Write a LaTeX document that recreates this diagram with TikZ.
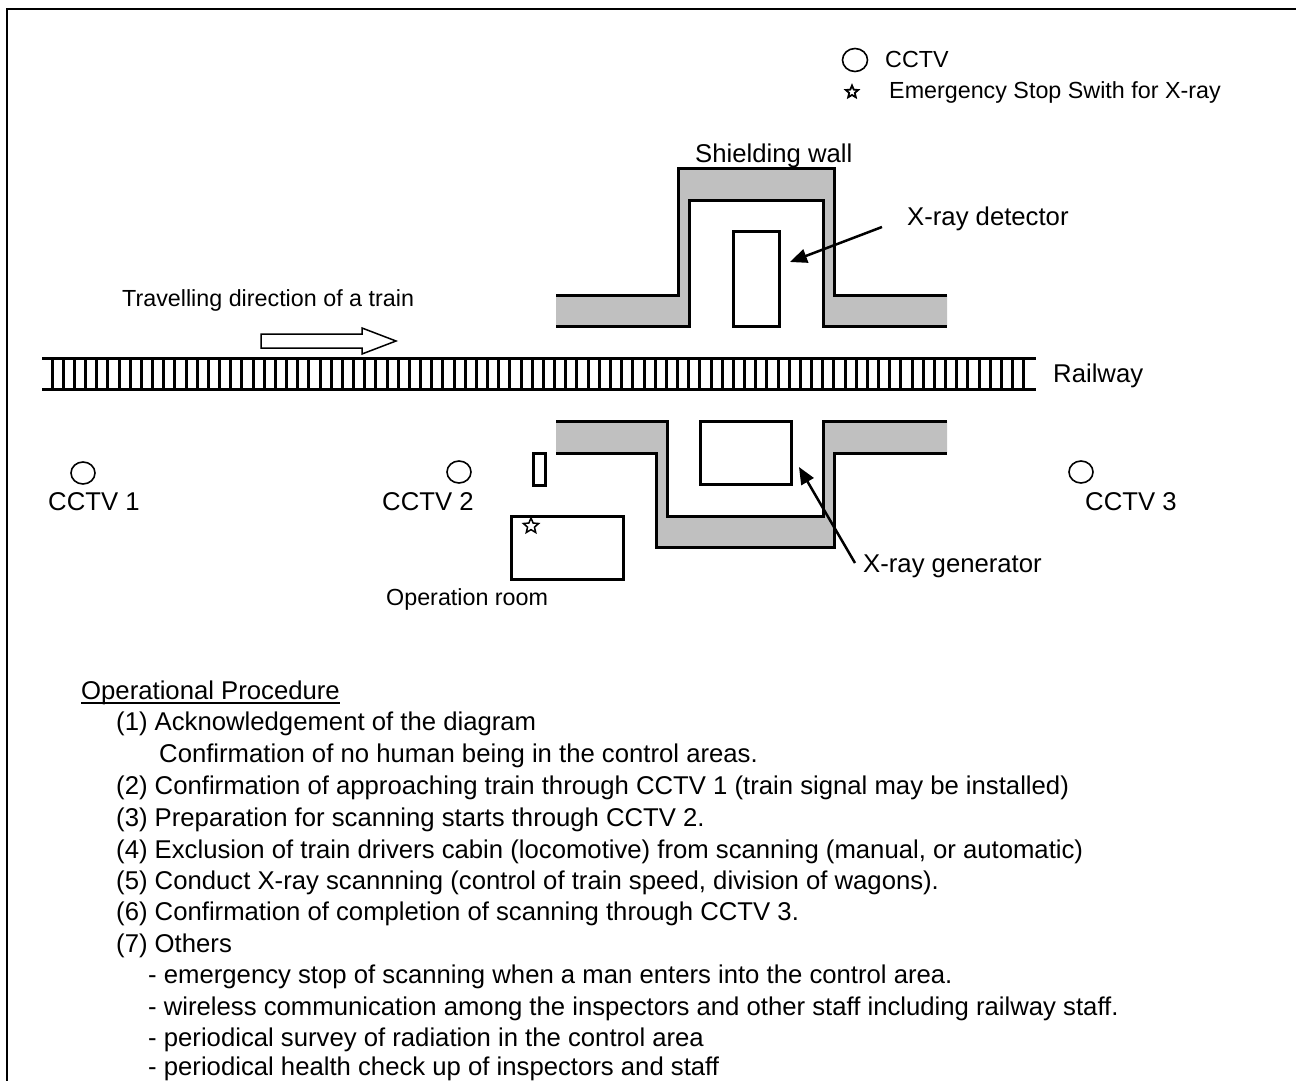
\documentclass[tikz,border=0pt]{standalone}
\usepackage{fontspec}
\setmainfont{Liberation Sans}
\usetikzlibrary{arrows.meta,calc,shapes.geometric}
\definecolor{wallgray}{HTML}{C0C0C0}

\begin{document}
\begin{tikzpicture}[
  x=1pt, y=-1pt,
  every node/.style={inner sep=0pt, anchor=base west},
  biglabel/.style={font=\fontsize{25.7}{30}\selectfont},
  smalllabel/.style={font=\fontsize{23.3}{27}\selectfont},
  wallline/.style={line width=3pt, line cap=butt, line join=miter},
  boxline/.style={draw, line width=3pt, outer sep=0pt},
  camera/.style={draw, ellipse, line width=1.6pt, minimum width=24pt, minimum height=22pt, anchor=center},
  stopswitch/.style={draw, star, star points=5, star point ratio=2.2, line width=1.5pt, minimum size=16pt, anchor=center},
  pointer/.style={line width=2.5pt, -{Triangle[length=17pt,width=14pt]}},
]
\useasboundingbox (0,0) rectangle (1296,1081);
\draw[line width=2.5pt] (7,1081) -- (7,9) -- (1296,9);

% legend
\node[camera, minimum width=25pt, minimum height=23pt] (legcam) at (855,60) {};
\node[smalllabel] (legcamtext) at (885,68) {CCTV};
\node[stopswitch, minimum size=13pt, line width=1.8pt] (legstar) at (852,92) {};
\node[smalllabel] (legstartext) at (889,99) {Emergency Stop Swith for X-ray};

% top wall
\fill[wallgray] (556,295) -- (678,295) -- (678,168) -- (834,168) -- (834,295) -- (947,295)
  -- (947,326) -- (823,326) -- (823,200) -- (689,200) -- (689,326) -- (556,326) -- cycle;
\draw[wallline] (556,295) -- (678,295) -- (678,168) -- (834,168) -- (834,295) -- (947,295);
\draw[wallline] (947,326) -- (823,326) -- (823,200) -- (689,200) -- (689,326) -- (556,326);
\node[biglabel] (wall) at (695,162) {Shielding wall};
\node[boxline, anchor=north west, minimum width=46pt, minimum height=95pt] (detector) at (733,231) {};
\node[biglabel] (detectortext) at (907,225) {X-ray detector};
\coordinate (detectortail) at (882,227);
\coordinate (detectortip) at (790,262);
\draw[pointer] (detectortail) -- (detectortip);

% train direction
\node[smalllabel] (traintext) at (122,306) {Travelling direction of a train};
\draw[line width=1.5pt] (261,334) -- (362,334) -- (362,328) -- (396,341) -- (362,354) -- (362,348) -- (261,348) -- cycle;

% railway
\foreach \i in {0,...,87} {
  \draw[line width=3pt] ({52+11.17*\i},358) -- ({52+11.17*\i},389);
}
\draw[line width=3pt] (42,358) -- (1036,358);
\draw[line width=3pt] (42,389) -- (1036,389);
\node[biglabel] (railtext) at (1053,382) {Railway};

% bottom wall
\fill[wallgray] (556,421) -- (667,421) -- (667,516) -- (823,516) -- (823,421) -- (947,421)
  -- (947,453) -- (834,453) -- (834,547) -- (656,547) -- (656,453) -- (556,453) -- cycle;
\draw[wallline] (556,421) -- (667,421) -- (667,516) -- (823,516) -- (823,421) -- (947,421);
\draw[wallline] (947,453) -- (834,453) -- (834,547) -- (656,547) -- (656,453) -- (556,453);
\node[boxline, anchor=north west, minimum width=91pt, minimum height=63pt] (generator) at (700,421) {};
\node[biglabel] (generatortext) at (863,572) {X-ray generator};
\coordinate (generatortail) at (855,563);
\coordinate (generatortip) at (799,467);
\draw[pointer] (generatortail) -- (generatortip);

% operation room
\node[boxline, anchor=north west, minimum width=12pt, minimum height=32pt] (door) at (533,453) {};
\node[boxline, anchor=north west, minimum width=112pt, minimum height=63pt] (oproom) at (511,516) {};
\node[stopswitch] (roomstar) at (531,526) {};
\node[smalllabel] (oproomtext) at (386,605) {Operation room};

% cameras
\node[camera] (cam1) at (83,473) {};
\node[camera] (cam2) at (459,472) {};
\node[camera] (cam3) at (1081,472) {};
\node[biglabel] (cam1text) at (48,510) {CCTV 1};
\node[biglabel] (cam2text) at (382,510) {CCTV 2};
\node[biglabel] (cam3text) at (1085,510) {CCTV 3};

% procedure
\node[biglabel] (proctitle) at (81,699.7) {Operational Procedure};
\draw[line width=1.5pt] ([yshift=-3.5pt]proctitle.base west) -- ([yshift=-3.5pt]proctitle.base east);
\foreach \txt/\xpos/\ypos in {
  {(1) Acknowledgement of the diagram}/116/730.7,
  {Confirmation of no human being in the control areas.}/159/762.3,
  {(2) Confirmation of approaching train through CCTV 1 (train signal may be installed)}/116/794,
  {(3) Preparation for scanning starts through CCTV 2.}/116/826,
  {(4) Exclusion of train drivers cabin (locomotive) from scanning (manual, or automatic)}/116/858,
  {(5) Conduct X-ray scannning (control of train speed, division of wagons).}/116/889,
  {(6) Confirmation of completion of scanning through CCTV 3.}/116/920.7,
  {(7) Others}/116/952.7,
  {- emergency stop of scanning when a man enters into the control area.}/148/983.3,
  {- wireless communication among the inspectors and other staff including railway staff.}/148/1015,
  {- periodical survey of radiation in the control area}/148/1046.7,
  {- periodical health check up of inspectors and staff}/148/1075
} {
  \node[biglabel] at (\xpos,\ypos) {\txt};
}
\end{tikzpicture}
\end{document}
